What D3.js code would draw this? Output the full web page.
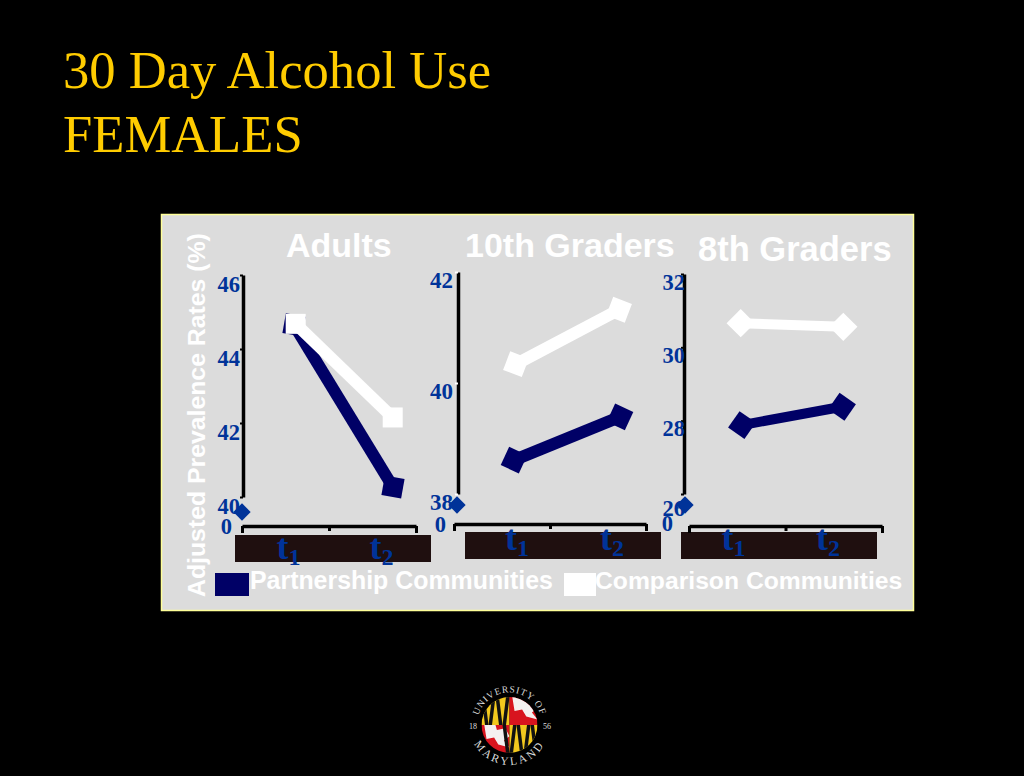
<!DOCTYPE html>
<html>
<head>
<meta charset="utf-8">
<script src="https://cdn.jsdelivr.net/npm/d3@7"></script>
<style>
html,body{margin:0;padding:0;background:#000;overflow:hidden}
svg{display:block}
</style>
</head>
<body>
<svg id="c" width="1024" height="776"></svg>
<script>
const titleLines = ["30 Day Alcohol Use", "FEMALES"];
const timePoints = ["t1", "t2"];
const panelNames = ["Adults", "10th Graders", "8th Graders"];
const adultsTicks = [40, 42, 44, 46];
const tenthTicks = [38, 40, 42];
const eighthTicks = [26, 28, 30, 32];
const adultsPartnership = [44.65, 40.27];
const adultsComparison = [44.68, 42.15];
const tenthPartnership = [38.61, 39.39];
const tenthComparison = [40.34, 41.32];
const eighthPartnership = [27.88, 28.38];
const eighthComparison = [30.66, 30.56];
const legendLabels = ["Partnership Communities", "Comparison Communities"];
const yAxisTitle = "Adjusted Prevalence Rates (%)";

const NAVY = "#000066", WHITE = "#ffffff", BLUE = "#003399", GOLD = "#ffcc00";
const SERIF = "'Liberation Serif','Times New Roman',serif";
const SANS = "'Liberation Sans',Arial,sans-serif";

const svg = d3.select("#c");
svg.append("rect").attr("width",1024).attr("height",776).attr("fill","#000");

// slide title
svg.selectAll("text.title").data(titleLines).join("text").attr("class","title")
  .attr("x",63).attr("y",(d,i)=>88+i*64)
  .attr("font-family",SERIF).attr("font-size",52.6).attr("fill",GOLD).text(d=>d);

// card
svg.append("rect").attr("x",161.5).attr("y",214.5).attr("width",752).attr("height",396)
  .attr("fill","#dcdcdc").attr("stroke","#ffff99").attr("stroke-width",1.5);

const layouts = [
 {name:panelNames[0],tx:286,ty:257,fs:34,ticks:adultsTicks,p:adultsPartnership,c:adultsComparison,
  ax:243,y0:497,y1:275,bx0:242,bx1:416,by:526,box:[235,535],mx:[294,393],cx:[295.7,392.7],lx:[288.5,381.5],ly:559,
  zero:[232,534],lblX:240,lblDy:16,lblFs:22.5,stray:[242,512],pRot:[10,10],cRot:[0,0],size:20,sw:12,tickColor:"#000",shift:{}},
 {name:panelNames[1],tx:465,ty:257,fs:34,ticks:tenthTicks,p:tenthPartnership,c:tenthComparison,
  ax:458,y0:494,y1:272,bx0:454,bx1:646,by:524,box:[465,532],mx:[514,620],cx:[516,619],lx:[517,612],ly:550,
  zero:[446,532],lblX:453,lblDy:15,lblFs:23,stray:[457,505],pRot:[25,25],cRot:[21,21],size:20,sw:12,tickColor:"#fff",shift:{}},
 {name:panelNames[2],tx:698,ty:261,fs:34.5,ticks:eighthTicks,p:eighthPartnership,c:eighthComparison,
  ax:684,y0:494,y1:274,bx0:689,bx1:882,by:526,box:[681,532],mx:[742,842],cx:[740.7,843.3],lx:[733.5,828],ly:550,
  zero:[673,531],lblX:685,lblDy:15,lblFs:22.5,stray:[685,505],pRot:[35,35],cRot:[45,45],size:20,sw:10,tickColor:"#000",shift:{26:6}}
];

layouts.forEach(L=>{
  const g = svg.append("g");
  g.append("text").attr("x",L.tx).attr("y",L.ty).attr("font-family",SANS).attr("font-weight","bold")
    .attr("font-size",L.fs).attr("fill",WHITE).text(L.name);

  const y = d3.scaleLinear().domain(d3.extent(L.ticks)).range([L.y0,L.y1]);
  const xP = d3.scalePoint().domain(timePoints).range(L.mx);
  const xC = d3.scalePoint().domain(timePoints).range(L.cx);
  const xL = d3.scalePoint().domain(timePoints).range(L.lx);

  // dark band behind the time labels
  g.append("rect").attr("x",L.box[0]).attr("y",L.box[1]).attr("width",196).attr("height",27).attr("fill","#1f0f0f");

  // stray axis-break diamond
  g.append("path").attr("d",d3.symbol(d3.symbolSquare,150)())
    .attr("transform",`translate(${L.stray[0]},${L.stray[1]}) rotate(45)`).attr("fill",BLUE);

  // y axis
  const ya = g.append("g").attr("transform",`translate(${L.ax},0)`)
    .call(d3.axisLeft(y).tickValues(L.ticks).tickFormat(d3.format("d")).tickSize(3).tickSizeOuter(0));
  ya.select(".domain").attr("stroke","#000").attr("stroke-width",3.5);
  ya.selectAll(".tick line").attr("stroke",L.tickColor).attr("stroke-width",2);
  ya.selectAll(".tick text").attr("x",L.lblX-L.ax).attr("dy",null).attr("y",d=>L.lblDy+(L.shift[d]||0))
    .attr("font-family",SERIF).attr("font-weight","bold").attr("font-size",L.lblFs).attr("fill",BLUE);

  // x axis
  const xb = d3.scaleLinear().domain([0,2]).range([L.bx0,L.bx1]);
  const xa = g.append("g").attr("transform",`translate(0,${L.by})`)
    .call(d3.axisBottom(xb).tickValues([0,1,2]).tickFormat("").tickSize(6).tickSizeOuter(0));
  xa.select(".domain").attr("stroke","#000").attr("stroke-width",3.5);
  xa.selectAll(".tick line").attr("stroke","#000").attr("stroke-width",3)
    .attr("y2",(d,i)=>i===1?5:7);

  // zero label
  g.append("text").attr("x",L.zero[0]).attr("y",L.zero[1]).attr("text-anchor","end")
    .attr("font-family",SERIF).attr("font-weight","bold").attr("font-size",22.5).attr("fill",BLUE).text("0");

  // time labels
  timePoints.forEach(t=>{
    const tx = g.append("text").attr("x",xL(t)).attr("y",L.ly).attr("text-anchor","middle")
      .attr("font-family",SERIF).attr("font-weight","bold").attr("font-size",36).attr("fill",BLUE);
    tx.append("tspan").text(t[0]);
    tx.append("tspan").attr("font-size",24).attr("dy",6).text(t[1]);
  });

  // series (navy under white)
  [{v:L.p,x:xP,color:NAVY,rot:L.pRot},{v:L.c,x:xC,color:WHITE,rot:L.cRot}].forEach(s=>{
    const pts = timePoints.map((t,i)=>({t,val:s.v[i],rot:s.rot[i]}));
    g.append("path").datum(pts)
      .attr("d",d3.line().x(d=>s.x(d.t)).y(d=>y(d.val)))
      .attr("fill","none").attr("stroke",s.color).attr("stroke-width",L.sw);
    g.selectAll(null).data(pts).join("path")
      .attr("d",d3.symbol(d3.symbolSquare,L.size*L.size)())
      .attr("transform",d=>`translate(${s.x(d.t)},${y(d.val)}) rotate(${d.rot})`)
      .attr("fill",s.color);
  });
});

// y axis title
svg.append("text").attr("transform","translate(205,597) rotate(-90)")
  .attr("font-family",SANS).attr("font-weight","bold").attr("font-size",24.8).attr("fill",WHITE).text(yAxisTitle);

// legend
svg.append("rect").attr("x",215).attr("y",573).attr("width",34).attr("height",23).attr("fill",NAVY);
svg.append("rect").attr("x",564).attr("y",573).attr("width",32).attr("height",23).attr("fill",WHITE);
svg.append("text").attr("x",250).attr("y",589).attr("font-family",SANS).attr("font-weight","bold")
  .attr("font-size",24.9).attr("fill",WHITE).text(legendLabels[0]);
svg.append("text").attr("x",595).attr("y",589).attr("font-family",SANS).attr("font-weight","bold")
  .attr("font-size",24.7).attr("fill",WHITE).text(legendLabels[1]);

// university seal
const cx=509.5, cy=725, r=28;
const logo = svg.append("g");
const defs = svg.append("defs");
defs.append("clipPath").attr("id","seal").append("circle").attr("cx",cx).attr("cy",cy).attr("r",r);
const polar=(rad,deg)=>[cx+rad*Math.sin(deg*Math.PI/180),cy-rad*Math.cos(deg*Math.PI/180)];
const tS=polar(32.5,-85),tE=polar(32.5,85),bS=polar(40,-100),bE=polar(40,100);
defs.append("path").attr("id","arcTop").attr("d",`M ${tS[0]} ${tS[1]} A 32.5 32.5 0 0 1 ${tE[0]} ${tE[1]}`);
defs.append("path").attr("id","arcBot").attr("d",`M ${bS[0]} ${bS[1]} A 40 40 0 0 0 ${bE[0]} ${bE[1]}`);
const flag = logo.append("g").attr("clip-path","url(#seal)");
const Y="#f2c81e",K="#111",R="#d8141e",W="#f5f0f0";
function calvert(x,y,w,h,flip){
  flag.append("rect").attr("x",x).attr("y",y).attr("width",w).attr("height",h).attr("fill",Y);
  const n=4,sw=w/n;
  for(let i=-1;i<=n;i++){
    const px=x+i*sw, up=((i+4)%2===0)===(flip>0);
    const a=up?y:y+h, b=up?y+h:y;
    flag.append("path").attr("d",`M ${px} ${a} L ${px+sw*0.5} ${a} L ${px+sw} ${b} L ${px+sw*0.5} ${b} Z`).attr("fill",K);
  }
}
function crossland(x,y,w,h){
  flag.append("rect").attr("x",x).attr("y",y).attr("width",w).attr("height",h).attr("fill",R);
  flag.append("path").attr("d",`M ${x+w*0.1} ${y} L ${x+w*0.5} ${y} L ${x+w*0.55} ${y+h*0.18} L ${x+w*0.85} ${y+h*0.12} L ${x+w} ${y+h*0.4} L ${x+w*0.8} ${y+h*0.55} L ${x+w} ${y+h*0.8} L ${x+w*0.6} ${y+h*0.7} L ${x+w*0.45} ${y+h*0.45} L ${x+w*0.18} ${y+h*0.5} Z`).attr("fill",W);
}
calvert(cx-r,cy-r,r,r,1);
crossland(cx,cy-r,r,r);
crossland(cx-r,cy,r,r);
calvert(cx,cy,r,r,-1);
logo.append("text").attr("font-family",SERIF).attr("font-size",9.5).attr("fill","#ddd").attr("letter-spacing",0.9).attr("text-anchor","middle")
  .append("textPath").attr("href","#arcTop").attr("startOffset","50%").text("UNIVERSITY OF");
logo.append("text").attr("font-family",SERIF).attr("font-size",11.5).attr("fill","#ddd").attr("letter-spacing",2.6).attr("text-anchor","middle")
  .append("textPath").attr("href","#arcBot").attr("startOffset","50%").text("MARYLAND");
logo.append("text").attr("x",473).attr("y",729).attr("text-anchor","middle").attr("font-family",SERIF).attr("font-size",8).attr("fill","#ddd").text("18");
logo.append("text").attr("x",547).attr("y",729).attr("text-anchor","middle").attr("font-family",SERIF).attr("font-size",8).attr("fill","#ddd").text("56");
</script>
</body>
</html>
